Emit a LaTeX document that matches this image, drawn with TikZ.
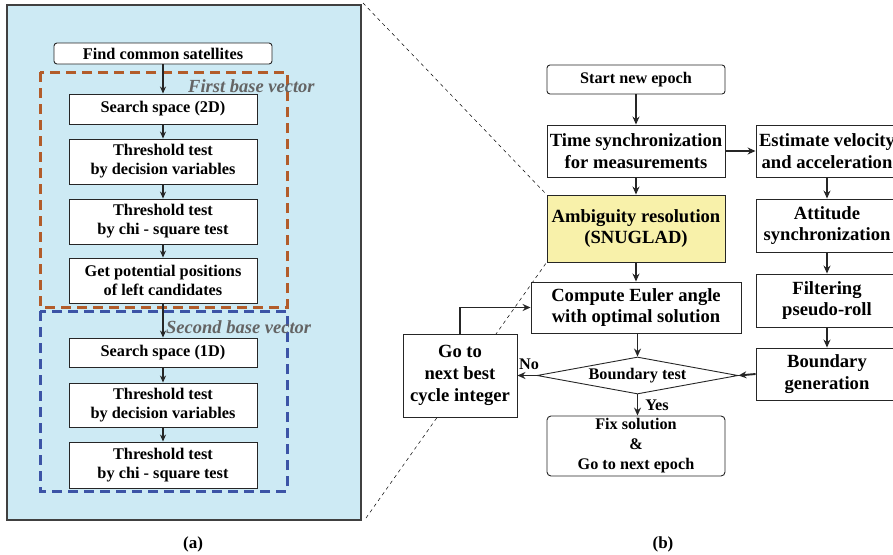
\documentclass[tikz,border=0pt]{standalone}
\usepackage{fontspec}
\setmainfont{Liberation Serif}
\usetikzlibrary{arrows.meta,shapes.geometric}
\definecolor{panelblue}{RGB}{205,234,244}
\definecolor{dashorange}{RGB}{178,92,42}
\definecolor{dashblue}{RGB}{60,84,166}
\definecolor{ambyellow}{RGB}{248,241,170}
\definecolor{labgray}{RGB}{100,100,100}
\tikzset{
  box/.style={draw=black!85, fill=white, line width=0.9pt, align=center, inner sep=0pt},
  lbox/.style={box, minimum width=188pt, font=\bfseries\fontsize{16.3}{19}\selectfont},
  rbox/.style={box, font=\bfseries\fontsize{18.6}{21.5}\selectfont},
  larrow/.style={line width=1.3pt, draw=black!85, -{Stealth[length=7pt,width=6pt]}},
  rarrow/.style={line width=1.9pt, draw=black!85, -{Stealth[length=8pt,width=7pt]}},
  zoomline/.style={line width=0.5pt, dash pattern=on 3.5pt off 3.5pt},
  grouplabel/.style={font=\bfseries\itshape\fontsize{18.5}{20}\selectfont, text=labgray, inner sep=0pt},
  caption/.style={font=\bfseries\fontsize{17}{18}\selectfont, inner sep=0pt}
}
\begin{document}
\begin{tikzpicture}[x=1pt,y=-1pt]
\useasboundingbox (0,0) rectangle (893,554);
% left panel
\fill[panelblue] (7,5) rectangle (361,520);
\draw[draw=black!75, line width=1.2pt] (7,5) rectangle (361,520);
% zoom lines
\coordinate (zt) at (363,3);
\coordinate (zb) at (366,518);
% group frames
\draw[dashorange, line width=3pt, dash pattern=on 10pt off 6pt] (40,72) rectangle (287,307);
\draw[dashblue, line width=3pt, dash pattern=on 10pt off 6pt] (40,311) rectangle (287,491);
% left nodes
\node[box, rounded corners=3pt, minimum width=218pt, minimum height=21pt, font=\bfseries\fontsize{16.3}{19}\selectfont] (find) at (163,53.5) {Find common satellites};
\node[lbox, minimum height=30pt] (s2d) at (163,109) {Search space (2D)};
\node[lbox, minimum height=45pt] (td1) at (163,161.5) {Threshold test\\by decision variables};
\node[lbox, minimum height=45pt] (tc1) at (163,221.5) {Threshold test\\by chi - square test};
\node[lbox, minimum height=45pt] (gp) at (163,280.5) {Get potential positions\\of left candidates};
\node[lbox, minimum height=29pt] (s1d) at (163,352.5) {Search space (1D)};
\node[lbox, minimum height=44pt] (td2) at (163,405) {Threshold test\\by decision variables};
\node[lbox, minimum height=46pt] (tc2) at (163,465) {Threshold test\\by chi - square test};
\node[grouplabel, anchor=west] (g1) at (188,86) {First base vector};
\node[grouplabel, anchor=west] (g2) at (166,327) {Second base vector};
\draw[larrow] (find) -- (s2d);
\draw[larrow] (s2d) -- (td1);
\draw[larrow] (td1) -- (tc1);
\draw[larrow] (tc1) -- (gp);
\draw[larrow] (gp) -- (s1d);
\draw[larrow] (s1d) -- (td2);
\draw[larrow] (td2) -- (tc2);
% right nodes
\node[rbox, minimum width=178pt, minimum height=67pt, fill=ambyellow] (amb) at (636,228.5) {Ambiguity resolution\\(SNUGLAD)};
\draw[zoomline] (zt) -- (amb.north west);
\draw[zoomline] (zb) -- (amb.south west);
\node[box, rounded corners=3pt, minimum width=178pt, minimum height=29pt, font=\bfseries\fontsize{16.2}{18}\selectfont] (start) at (636,79.5) {Start new epoch};
\node[rbox, minimum width=178pt, minimum height=52pt] (tsync) at (636,151) {Time synchronization\\for measurements};
\node[rbox, minimum width=142pt, minimum height=52pt] (vel) at (827,151) {Estimate velocity\\and acceleration};
\node[rbox, minimum width=142pt, minimum height=53pt] (att) at (827,225.5) {Attitude\\synchronization};
\node[rbox, minimum width=142pt, minimum height=53pt] (filt) at (827,300.5) {Filtering\\pseudo-roll};
\node[rbox, minimum width=142pt, minimum height=52pt] (bgen) at (827,374) {Boundary\\generation};
\node[rbox, minimum width=210pt, minimum height=51pt] (euler) at (636,307.5) {Compute Euler angle\\with optimal solution};
\node[box, shape=diamond, aspect=5.4, minimum width=201pt, minimum height=37pt, font=\bfseries\fontsize{16.2}{18}\selectfont] (bt) at (637.5,375.5) {Boundary test};
\node[rbox, minimum width=114pt, minimum height=83pt, font=\bfseries\fontsize{18.6}{22}\selectfont] (goto) at (460,375.5) {Go to\\next best\\cycle integer};
\node[box, rounded corners=4pt, minimum width=178pt, minimum height=60pt, font=\bfseries\fontsize{16.2}{20}\selectfont] (fix) at (636,446) {Fix solution\\\&\\Go to next epoch};
\draw[rarrow] (start) -- (tsync);
\draw[rarrow] (tsync) -- (amb);
\draw[rarrow] (tsync) -- (vel);
\draw[rarrow] (amb) -- (euler);
\draw[rarrow] (vel) -- (att);
\draw[rarrow] (att) -- (filt);
\draw[rarrow] (filt) -- (bgen);
\draw[rarrow] (euler.south -| bt.north) -- (bt.north);
\draw[rarrow] (bgen.west) -- (bt.east);
\draw[rarrow] (bt.west) -- (goto.east);
\draw[rarrow] (bt.south) -- (bt.south |- fix.north);
\draw[rarrow] (goto.north) |- (euler.west);
\node[font=\bfseries\fontsize{16.2}{18}\selectfont, inner sep=0pt] (no) at (529,364) {No};
\node[font=\bfseries\fontsize{16.2}{18}\selectfont, inner sep=0pt] (yes) at (657,405) {Yes};
% captions
\node[caption] (ca) at (193,544) {(a)};
\node[caption] (cb) at (663,544) {(b)};
\end{tikzpicture}
\end{document}
